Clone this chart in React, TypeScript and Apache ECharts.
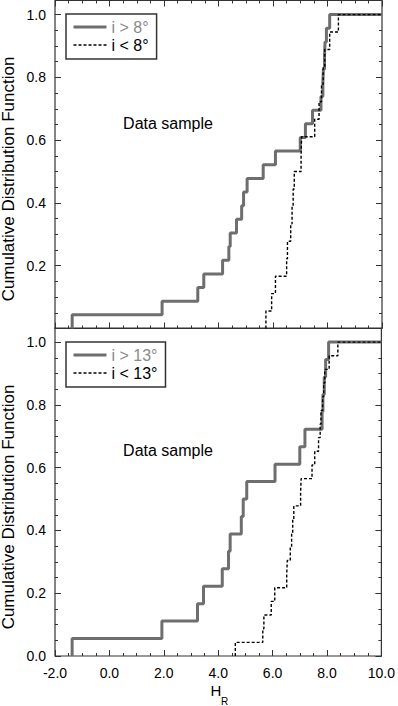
import React, { useEffect, useRef } from 'react';
import * as echarts from 'echarts';

// H_R values at which each cumulative step occurs
const HIGH8 = [-1.37, 1.93, 3.24, 3.46, 4.15, 4.38, 4.43, 4.66, 4.85, 4.92, 5.05, 5.64, 6.09, 7.0, 7.19, 7.45, 7.76, 7.83, 7.85, 7.89, 7.91, 7.96, 8.08];
const LOW8 = [5.74, 5.95, 6.09, 6.5, 6.53, 6.65, 6.7, 6.74, 6.78, 7.03, 7.05, 7.53, 7.69, 7.78, 7.84, 7.9, 8.08, 8.4];
const HIGH13 = [-1.37, 1.93, 3.24, 3.46, 4.15, 4.38, 4.44, 4.85, 4.92, 5.05, 6.09, 7.0, 7.19, 7.82, 7.85, 7.9, 7.95, 8.06];
const LOW13 = [4.63, 5.64, 5.68, 5.95, 6.08, 6.52, 6.54, 6.65, 6.7, 6.74, 6.78, 7.03, 7.05, 7.45, 7.55, 7.69, 7.75, 7.78, 7.84, 7.88, 7.92, 8.08, 8.4];

const SERIES_NAMES = ['i > 8°', 'i < 8°', 'i > 13°', 'i < 13°'];
const X_MIN = -2;
const X_MAX = 10;
const Y_MAX = 1.045;

const FONT = '"Liberation Sans", Arial, Helvetica, sans-serif';
const GRAY = '#6e6e6e';
const AXIS = '#333';

function cdf(xs: number[]) {
  const n = xs.length;
  const pts: number[][] = [[xs[0], 0]];
  xs.forEach((x, i) => pts.push([x, (i + 1) / n]));
  pts.push([X_MAX, 1]);
  return pts;
}

function xAx(gridIndex: number, position: string, labels: boolean) {
  return {
    type: 'value', gridIndex, position, min: X_MIN, max: X_MAX, interval: 2,
    axisLine: { show: false, onZero: false }, splitLine: { show: false },
    axisTick: { inside: true, length: 6, lineStyle: { color: AXIS, width: 1 } },
    minorTick: { show: true, splitNumber: 4, length: 3, lineStyle: { color: AXIS, width: 1 } },
    axisLabel: labels
      ? { show: true, margin: 10, fontSize: 14, color: '#000', fontFamily: FONT, formatter: (v: number) => v.toFixed(1) }
      : { show: false },
  };
}

function yAx(gridIndex: number, position: string, major: boolean, labels: boolean, showZero: boolean) {
  return {
    type: 'value', gridIndex, position, min: 0, max: Y_MAX, interval: major ? 0.2 : 0.05,
    axisLine: { show: false, onZero: false }, splitLine: { show: false },
    axisTick: { inside: true, length: major ? 6 : 3, lineStyle: { color: AXIS, width: 1 } },
    axisLabel: labels
      ? {
          show: true, margin: 9, fontSize: 14, color: '#000', fontFamily: FONT, showMaxLabel: false,
          formatter: (v: number) => {
            if (Math.abs(v * 5 - Math.round(v * 5)) > 1e-6) return '';
            if (!showZero && v < 1e-6) return '';
            return v.toFixed(1);
          },
        }
      : { show: false },
  };
}

function legendOf(top: number, a: string, b: string) {
  return {
    left: 66, top, orient: 'vertical', padding: [5, 8, 6, 6], itemGap: 2,
    itemWidth: 33, itemHeight: 13, borderColor: AXIS, borderWidth: 1.5, borderRadius: 0,
    itemStyle: { opacity: 0 },
    lineStyle: { width: 'inherit' },
    textStyle: { fontSize: 16, fontFamily: FONT, color: '#000' },
    data: [{ name: a, textStyle: { color: '#8a8a8a' } }, { name: b }],
  };
}

function grayLine(name: string, xi: number, yi: number, xs: number[]) {
  return {
    type: 'line', name, xAxisIndex: xi, yAxisIndex: yi, step: 'end', symbol: 'none', showSymbol: false,
    data: cdf(xs), color: GRAY, itemStyle: { opacity: 0 }, lineStyle: { color: GRAY, width: 3, opacity: 1 }, z: 2,
  };
}
function dashLine(name: string, xi: number, yi: number, xs: number[]) {
  return {
    type: 'line', name, xAxisIndex: xi, yAxisIndex: yi, step: 'end', symbol: 'none', showSymbol: false,
    data: cdf(xs), color: '#000', itemStyle: { opacity: 0 }, lineStyle: { color: '#000', width: 1.4, type: [3, 2], opacity: 1 }, z: 3,
  };
}

export default function App() {
  const ref = useRef<HTMLDivElement>(null);
  useEffect(() => {
    if (!ref.current) return;
    const chart = echarts.init(ref.current, undefined, { renderer: 'svg' });
    const option: any = {
      animation: false,
      backgroundColor: '#fff',
      textStyle: { fontFamily: FONT },
      grid: [
        { left: 55, right: 16, top: 0.5, height: 328, show: true, borderColor: AXIS, borderWidth: 1.2, backgroundColor: 'transparent' },
        { left: 55, right: 16, top: 328, height: 328, show: true, borderColor: AXIS, borderWidth: 1.2, backgroundColor: 'transparent' },
      ],
      xAxis: [
        xAx(0, 'bottom', false),
        xAx(0, 'top', false),
        xAx(1, 'bottom', true),
      ],
      yAxis: [
        yAx(0, 'left', true, true, false),
        yAx(0, 'left', false, false, false),
        yAx(0, 'right', true, false, false),
        yAx(0, 'right', false, false, false),
        yAx(1, 'left', true, true, true),
        yAx(1, 'left', false, false, true),
        yAx(1, 'right', true, false, true),
        yAx(1, 'right', false, false, true),
      ],
      legend: [
        legendOf(14, SERIES_NAMES[0], SERIES_NAMES[1]),
        legendOf(342, SERIES_NAMES[2], SERIES_NAMES[3]),
      ],
      series: [
        grayLine(SERIES_NAMES[0], 0, 0, HIGH8),
        dashLine(SERIES_NAMES[1], 0, 0, LOW8),
        grayLine(SERIES_NAMES[2], 2, 4, HIGH13),
        dashLine(SERIES_NAMES[3], 2, 4, LOW13),
      ],
      graphic: [
        { type: 'text', x: 168, y: 123, style: { text: 'Data sample', fontSize: 16, fontFamily: FONT, fill: '#000', textAlign: 'center', textVerticalAlign: 'middle' } },
        { type: 'text', x: 168, y: 450, style: { text: 'Data sample', fontSize: 16, fontFamily: FONT, fill: '#000', textAlign: 'center', textVerticalAlign: 'middle' } },
        { type: 'text', x: 8.5, y: 179, rotation: Math.PI / 2, style: { text: 'Cumulative Distribution Function', fontSize: 17, fontFamily: FONT, fill: '#000', textAlign: 'center', textVerticalAlign: 'middle' } },
        { type: 'text', x: 8.5, y: 507, rotation: Math.PI / 2, style: { text: 'Cumulative Distribution Function', fontSize: 17, fontFamily: FONT, fill: '#000', textAlign: 'center', textVerticalAlign: 'middle' } },
        { type: 'text', x: 216, y: 690, style: { text: 'H', fontSize: 15, fontFamily: FONT, fill: '#000', textAlign: 'center', textVerticalAlign: 'middle' } },
        { type: 'text', x: 224.5, y: 701, style: { text: 'R', fontSize: 10, fontFamily: FONT, fill: '#000', textAlign: 'center', textVerticalAlign: 'middle' } },
      ],
    };
    chart.setOption(option);
    return () => chart.dispose();
  }, []);
  return <div ref={ref} style={{ position: 'absolute', left: 0, top: 0, width: 398, height: 706 }} />;
}
